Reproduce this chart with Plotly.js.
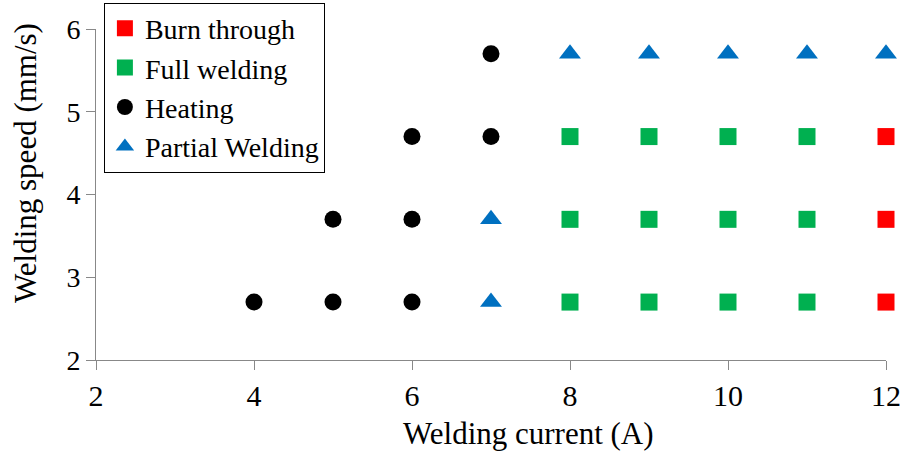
<!DOCTYPE html>
<html>
<head>
<meta charset="utf-8">
<script src="https://cdn.plot.ly/plotly-3.0.1.min.js"></script>
<style>
  html, body { margin: 0; padding: 0; background: #fff; }
  #chart { width: 903px; height: 452px; }
</style>
</head>
<body>
<div id="chart"></div>
<script>
// Welding outcome map: current (A) vs. speed (mm/s)
const burnCurrent = [12, 12, 12];
const burnSpeed   = [2.7, 3.7, 4.7];

const fullCurrent = [8, 9, 10, 11, 8, 9, 10, 11, 8, 9, 10, 11];
const fullSpeed   = [2.7, 2.7, 2.7, 2.7, 3.7, 3.7, 3.7, 3.7, 4.7, 4.7, 4.7, 4.7];

const heatCurrent = [4, 5, 6, 5, 6, 6, 7, 7];
const heatSpeed   = [2.7, 2.7, 2.7, 3.7, 3.7, 4.7, 4.7, 5.7];

const partCurrent = [7, 7, 8, 9, 10, 11, 12];
const partSpeed   = [2.7, 3.7, 5.7, 5.7, 5.7, 5.7, 5.7];

const xTicks = [2, 4, 6, 8, 10, 12];
const yTicks = [2, 3, 4, 5, 6];

const serif = 'Times New Roman, Liberation Serif, Times, serif';

const traces = [
  { name: 'Burn through', x: burnCurrent, y: burnSpeed, mode: 'markers', type: 'scatter',
    cliponaxis: false, marker: { symbol: 'square', size: 17, color: '#ff0000' } },
  { name: 'Full welding', x: fullCurrent, y: fullSpeed, mode: 'markers', type: 'scatter',
    cliponaxis: false, marker: { symbol: 'square', size: 17, color: '#00b050' } },
  { name: 'Heating', x: heatCurrent, y: heatSpeed, mode: 'markers', type: 'scatter',
    cliponaxis: false, marker: { symbol: 'circle', size: 17, color: '#000000' } },
  { name: 'Partial Welding', x: partCurrent, y: partSpeed, mode: 'markers', type: 'scatter',
    cliponaxis: false, marker: { symbol: 'triangle-up', size: 19, color: '#0070c0' } }
];

const layout = {
  width: 903, height: 452,
  margin: { l: 96, r: 17, t: 29, b: 92, autoexpand: false },
  paper_bgcolor: '#ffffff', plot_bgcolor: '#ffffff',
  font: { family: serif, color: '#000', size: 27 },
  showlegend: true,
  legend: {
    x: 0.01, y: 1.08, xanchor: 'left', yanchor: 'top',
    bgcolor: '#ffffff', bordercolor: '#000', borderwidth: 1,
    font: { family: serif, size: 28, color: '#000' },
    tracegroupgap: 0, itemwidth: 30
  },
  xaxis: {
    range: [2, 12], tickvals: xTicks, ticktext: xTicks.map(String),
    showgrid: false, zeroline: false,
    showline: true, linecolor: '#888', linewidth: 1,
    ticks: 'outside', ticklen: 9, tickcolor: '#888',
    tickfont: { family: serif, size: 30, color: '#000' }
  },
  yaxis: {
    range: [2, 6], tickvals: yTicks, ticktext: yTicks.map(String),
    showgrid: false, zeroline: false,
    showline: true, linecolor: '#888', linewidth: 1,
    ticks: 'outside', ticklen: 9, tickcolor: '#888',
    tickfont: { family: serif, size: 28, color: '#000' }
  },
  annotations: [
    { text: 'Welding current (A)', xref: 'paper', yref: 'paper',
      x: 0.548, y: -0.222, xanchor: 'center', yanchor: 'middle', showarrow: false,
      font: { family: serif, size: 31, color: '#000' } },
    { text: 'Welding speed (mm/s)', xref: 'paper', yref: 'paper',
      x: -0.09, y: 0.595, xanchor: 'center', yanchor: 'middle', showarrow: false,
      textangle: -90, font: { family: serif, size: 31, color: '#000' } }
  ]
};

Plotly.newPlot('chart', traces, layout, { displayModeBar: false, staticPlot: true });
</script>
</body>
</html>
